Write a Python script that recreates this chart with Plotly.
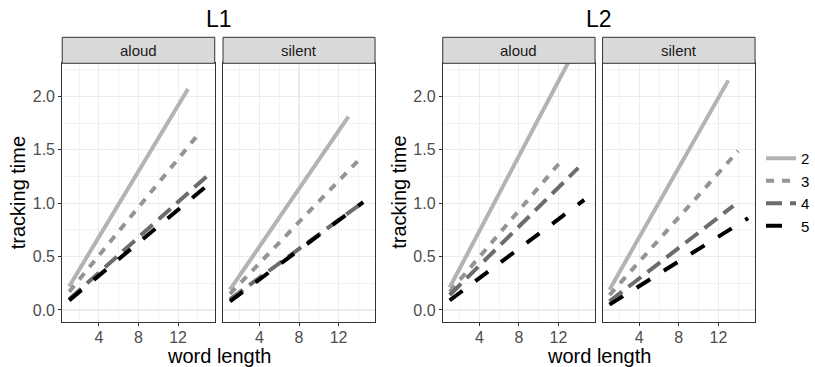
import plotly.graph_objects as go

W, H = 815, 367

# ---- data ----
groups = ["2", "3", "4", "5"]
colors = ["#B3B3B3", "#949494", "#6C6C6C", "#000000"]
dashes = ["solid", "8px,8px", "16px,8px", "16px,16px"]

word_length_ticks = [4, 8, 12]
tracking_ticks = [0.0, 0.5, 1.0, 1.5, 2.0]
tracking_tick_labels = ["0.0", "0.5", "1.0", "1.5", "2.0"]

# each entry: [start, end] word length / tracking time of the fitted line per group
l1_aloud_x = [[1, 13], [1, 14], [1, 15], [1, 15]]
l1_aloud_y = [[0.22, 2.07], [0.17, 1.64], [0.10, 1.26], [0.09, 1.17]]

l1_silent_x = [[1, 13], [1, 14], [1, 14.5], [1, 14.5]]
l1_silent_y = [[0.19, 1.81], [0.15, 1.40], [0.10, 1.01], [0.08, 1.01]]

l2_aloud_x = [[1, 13], [1, 12.5], [1, 14], [1, 14.6]]
l2_aloud_y = [[0.21, 2.32], [0.17, 1.42], [0.14, 1.33], [0.09, 1.03]]

l2_silent_x = [[1, 13], [1, 14], [1, 13.5], [1, 15]]
l2_silent_y = [[0.19, 2.15], [0.14, 1.49], [0.08, 0.975], [0.05, 0.86]]

panels = [
    ("aloud", l1_aloud_x, l1_aloud_y),
    ("silent", l1_silent_x, l1_silent_y),
    ("aloud", l2_aloud_x, l2_aloud_y),
    ("silent", l2_silent_x, l2_silent_y),
]
plot_titles = ["L1", "L2"]

# ---- layout geometry (pixels) ----
panel_x = [(62.3, 215.0), (223.3, 375.5), (443.3, 595.8), (603.3, 756.0)]
panel_top, panel_bottom = 63.3, 321.7
strip_top = 37.3

def px(x):
    return x / W

def py(y):
    return 1 - y / H

FONT = "Liberation Sans, Arial, Helvetica, sans-serif"
fig = go.Figure()

for p, (strip, xs, ys) in enumerate(panels):
    suffix = "" if p == 0 else str(p + 1)
    for g in range(len(groups)):
        fig.add_trace(go.Scatter(
            x=xs[g], y=ys[g], mode="lines",
            line=dict(color=colors[g], width=4, dash=dashes[g]),
            name=groups[g], legendgroup=groups[g], showlegend=(p == 0),
            xaxis="x" + suffix, yaxis="y" + suffix, hoverinfo="skip",
        ))

layout = dict(
    width=W, height=H, margin=dict(l=0, r=0, t=0, b=0),
    paper_bgcolor="white", plot_bgcolor="white",
    font=dict(family=FONT, color="black"),
    showlegend=True,
    legend=dict(x=px(762), xanchor="left", y=py(192), yanchor="middle",
                font=dict(size=15, color="black"), bgcolor="rgba(0,0,0,0)",
                tracegroupgap=0),
)

grid = "#EBEBEB"
for p in range(4):
    suffix = "" if p == 0 else str(p + 1)
    x0, x1 = panel_x[p]
    first = p % 2 == 0
    layout["xaxis" + suffix] = dict(
        domain=[px(x0), px(x1)], anchor="y" + suffix, range=[0.3, 15.7],
        tickmode="array", tickvals=word_length_ticks,
        ticktext=[str(v) for v in word_length_ticks],
        ticks="outside", ticklen=3, tickcolor="#333333", tickwidth=1,
        tickfont=dict(size=16, color="#4D4D4D"), ticklabelstandoff=-2,
        showgrid=True, gridcolor=grid, gridwidth=1.1,
        minor=dict(tickmode="array", tickvals=[2, 6, 10, 14], showgrid=True,
                   gridcolor=grid, gridwidth=0.6, ticks=""),
        showline=True, linecolor="#333333", linewidth=1, mirror=True,
        zeroline=False, fixedrange=True,
    )
    layout["yaxis" + suffix] = dict(
        domain=[py(panel_bottom), py(panel_top)], anchor="x" + suffix,
        range=[-0.11, 2.31],
        tickmode="array", tickvals=tracking_ticks, ticktext=tracking_tick_labels,
        showticklabels=first, ticks="outside" if first else "",
        ticklen=3, tickcolor="#333333", tickwidth=1,
        tickfont=dict(size=16, color="#4D4D4D"),
        showgrid=True, gridcolor=grid, gridwidth=1.1,
        minor=dict(tickmode="array", tickvals=[0.25, 0.75, 1.25, 1.75, 2.25],
                   showgrid=True, gridcolor=grid, gridwidth=0.6, ticks=""),
        showline=True, linecolor="#333333", linewidth=1, mirror=True,
        zeroline=False, fixedrange=True,
    )

shapes = []
annotations = []
for p, (strip, xs, ys) in enumerate(panels):
    x0, x1 = panel_x[p]
    shapes.append(dict(type="rect", xref="paper", yref="paper",
                       x0=px(x0), x1=px(x1), y0=py(panel_top), y1=py(strip_top),
                       fillcolor="#D9D9D9", line=dict(color="#333333", width=1),
                       layer="above"))
    annotations.append(dict(text=strip, xref="paper", yref="paper",
                            x=px((x0 + x1) / 2), y=py((strip_top + panel_top) / 2),
                            xanchor="center", yanchor="middle", showarrow=False,
                            font=dict(size=15, color="#1A1A1A")))

for k in range(2):
    left = panel_x[2 * k][0]
    right = panel_x[2 * k + 1][1]
    cx = (left + right) / 2
    annotations.append(dict(text=plot_titles[k], xref="paper", yref="paper",
                            x=px(cx), y=py(19.5), xanchor="center", yanchor="middle",
                            showarrow=False, font=dict(size=23, color="black")))
    annotations.append(dict(text="word length", xref="paper", yref="paper",
                            x=px(cx), y=py(356), xanchor="center", yanchor="middle",
                            showarrow=False, font=dict(size=20, color="black")))
    annotations.append(dict(text="tracking time", xref="paper", yref="paper",
                            x=px(left - 44.5), y=py((panel_top + panel_bottom) / 2),
                            xanchor="center", yanchor="middle", textangle=-90,
                            showarrow=False, font=dict(size=20, color="black")))

layout["shapes"] = shapes
layout["annotations"] = annotations
fig.update_layout(**layout)

fig.write_html(
    "out.html",
    config={"displayModeBar": False, "staticPlot": True},
    post_script="document.body.style.margin='0';document.body.style.overflow='hidden';",
)
